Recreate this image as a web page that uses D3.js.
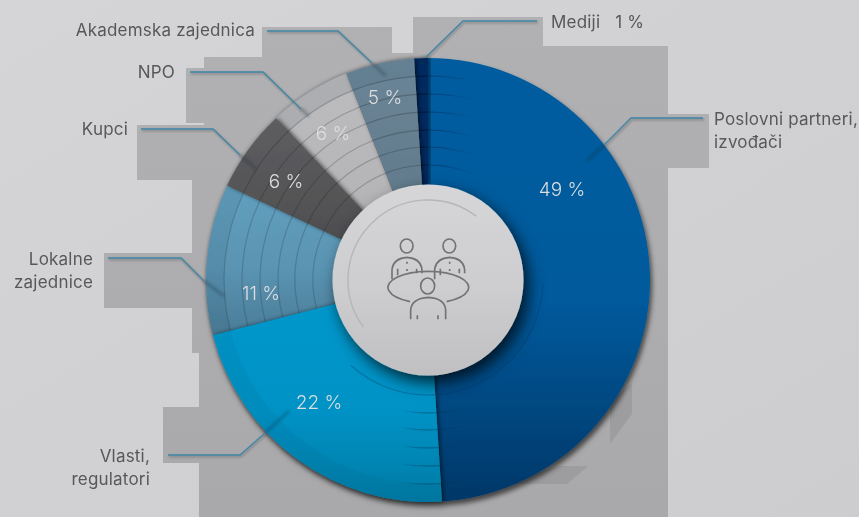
<!DOCTYPE html>
<html>
<head>
<meta charset="utf-8">
<script src="https://cdn.jsdelivr.net/npm/d3@7"></script>
<style>
html, body { margin: 0; padding: 0; background: #d2d2d4; overflow: hidden; }
text { font-family: Inter, "Open Sans", sans-serif; }
</style>
</head>
<body>
<svg id="chart"></svg>
<script>
const width = 859;
const height = 517;

const categories = ['Poslovni partneri, izvođači', 'Vlasti, regulatori', 'Lokalne zajednice', 'Kupci', 'NPO', 'Akademska zajednica', 'Mediji'];
const shares = [49, 22, 11, 6, 6, 5, 1];
const percentLabels = ['49 %', '22 %', '11 %', '6 %', '6 %', '5 %', ''];

const centerX = 428;
const centerY = 280;
const outerRadius = 222;
const innerRadius = 95;
const ringRadii = [115, 133, 150, 168, 186, 204];

const topColors = ['#005c9f', '#0097cb', '#619fbf', '#5e5e60', '#bcbcbe', '#6a8698', '#002c60'];
const midColors = ['#005a9c', '#0092c5', '#5a94b2', '#565658', '#b8b8ba', '#667f91', '#002c60'];
const bottomColors = ['#003768', '#007ba5', '#4a7c97', '#4e4e50', '#b4b4b6', '#627b8d', '#002c60'];
const bandOpacity = [0, 0.05, 0.07, 0, 0.09, 0.05, 0];
const ringOpacity = [0, 0, 0.22, 0.28, 0.24, 0.28, 0];
// later ones throw their shadow on earlier ones
const drawOrder = [0, 6, 4, 5, 2, 1, 3];

// label text, one entry per line block, anchor position on the page
const labelLines = [
    { text: ['Poslovni partneri,', 'izvođači'], x: 714, y: 125, anchor: 'start' },
    { text: ['Vlasti,', 'regulatori'], x: 150, y: 462, anchor: 'end' },
    { text: ['Lokalne', 'zajednice'], x: 93, y: 265, anchor: 'end' },
    { text: ['Kupci'], x: 128, y: 135, anchor: 'end' },
    { text: ['NPO'], x: 175, y: 78, anchor: 'end' },
    { text: ['Akademska zajednica'], x: 255, y: 36, anchor: 'end' },
    { text: ['Mediji\u00a0\u00a0\u00a01 %'], x: 551, y: 28, anchor: 'start' }
];

// leader lines: label end, elbow, pie rim, end inside the slice
const leaderSpots = [
    [[703, 118], [631, 118], [604, 145], [587, 161]],
    [[168, 455], [240, 455], [265, 433], [289, 411]],
    [[108, 258], [181, 258], [204, 281], [224, 296]],
    [[141, 129], [213, 129], [240, 155], [256, 169]],
    [[190, 72], [263, 72], [301, 109], [309, 116]],
    [[267, 31], [338, 31], [372, 63], [386, 76]],
    [[537, 21], [463, 21], [426, 57], [419, 64]]
];

const percentSpots = [[562, 189], [319, 402], [261, 293], [286, 181], [333, 133], [385, 97], [0, 0]];

// the blocky darker area behind the pie
const backdrop = [[413, 17], [543, 17], [543, 46], [668, 46], [668, 114], [709, 114], [709, 168], [668, 168],
    [668, 517], [199, 517], [199, 463], [163, 463], [163, 407], [199, 407], [199, 353], [192, 353],
    [192, 308], [104, 308], [104, 253], [192, 253], [192, 180], [137, 180], [137, 125], [204, 125],
    [204, 123], [186, 123], [186, 68], [204, 68], [204, 57], [262, 57], [262, 27], [392, 27], [392, 53], [413, 53]];
const shards = [
    [[610, 402], [632, 383], [632, 414], [610, 444]],
    [[560, 466], [588, 466], [567, 484], [500, 484]]
];

const svg = d3.select('#chart').attr('width', width).attr('height', height)
    .style('display', 'block');
const defs = svg.append('defs');

function vertical(id, top, mid, bottom) {
    const g = defs.append('linearGradient').attr('id', id)
        .attr('x1', 0).attr('y1', 0).attr('x2', 0).attr('y2', 1);
    g.append('stop').attr('offset', '0%').attr('stop-color', top);
    g.append('stop').attr('offset', '55%').attr('stop-color', mid);
    g.append('stop').attr('offset', '100%').attr('stop-color', bottom);
}

function blur(id, dev) {
    defs.append('filter').attr('id', id)
        .attr('x', '-30%').attr('y', '-30%').attr('width', '160%').attr('height', '160%')
        .append('feGaussianBlur').attr('stdDeviation', dev);
}

function dropShadow(id, dx, dy, dev, alpha) {
    defs.append('filter').attr('id', id)
        .attr('x', '-20%').attr('y', '-20%').attr('width', '140%').attr('height', '140%')
        .append('feDropShadow').attr('dx', dx).attr('dy', dy).attr('stdDeviation', dev)
        .attr('flood-color', '#000').attr('flood-opacity', alpha);
}

blur('softLine', 1.6);
blur('softShadow', 1);
dropShadow('pieShadow', 2, 4, 2.5, 0.6);
dropShadow('sliceShadow', 1.5, 0, 2, 0.6);
dropShadow('hubShadow', 5, 7, 8, 0.75);

const pageGrad = defs.append('linearGradient').attr('id', 'pageGrad')
    .attr('x1', 0).attr('y1', 0).attr('x2', 1).attr('y2', 1);
pageGrad.append('stop').attr('offset', '0%').attr('stop-color', '#d5d5d7');
pageGrad.append('stop').attr('offset', '100%').attr('stop-color', '#cdcdcf');
vertical('backGrad', '#b1b1b3', '#adadaf', '#a9a8aa');
vertical('hubGrad', '#d6d6d8', '#cdcdcf', '#c0c0c2');

shares.forEach((d, i) => vertical('slice' + i, topColors[i], midColors[i], bottomColors[i]));

// rings that die out inside the blue slice, left to right in page units
const fadeTop = defs.append('linearGradient').attr('id', 'fadeTop').attr('gradientUnits', 'userSpaceOnUse')
    .attr('x1', 0).attr('x2', 44).attr('y1', 0).attr('y2', 0);
fadeTop.append('stop').attr('offset', '0%').attr('stop-color', '#00264f').attr('stop-opacity', 0.6);
fadeTop.append('stop').attr('offset', '100%').attr('stop-color', '#00264f').attr('stop-opacity', 0);
const fadeBottom = defs.append('linearGradient').attr('id', 'fadeBottom').attr('gradientUnits', 'userSpaceOnUse')
    .attr('x1', -28).attr('x2', 34).attr('y1', 0).attr('y2', 0);
fadeBottom.append('stop').attr('offset', '0%').attr('stop-color', '#00304f').attr('stop-opacity', 0);
fadeBottom.append('stop').attr('offset', '45%').attr('stop-color', '#00304f').attr('stop-opacity', 0.55);
fadeBottom.append('stop').attr('offset', '100%').attr('stop-color', '#00304f').attr('stop-opacity', 0);

svg.append('rect').attr('width', width).attr('height', height).attr('fill', 'url(#pageGrad)');

svg.append('path').attr('d', d3.line()(backdrop) + 'Z').attr('fill', 'url(#backGrad)');
svg.selectAll('.shard').data(shards).enter().append('path').attr('class', 'shard')
    .attr('d', d => d3.line()(d) + 'Z').attr('fill', '#8f9092').attr('opacity', 0.5);

const pie = d3.pie().sort(null)(shares);
const arc = d3.arc().innerRadius(innerRadius).outerRadius(outerRadius);
const ring = (r, a0, a1) => d3.arc().innerRadius(r).outerRadius(r)({ startAngle: a0, endAngle: a1 });
const deg = d => d * Math.PI / 180;

const chart = svg.append('g').attr('transform', `translate(${centerX},${centerY})`);
const slices = chart.append('g').attr('filter', 'url(#pieShadow)');

drawOrder.forEach(i => {
    const d = pie[i];
    const g = slices.append('g').attr('filter', (i === 0) ? null : 'url(#sliceShadow)');
    g.append('path').attr('d', arc(d)).attr('fill', `url(#slice${i})`);
    if (bandOpacity[i] > 0) {
        g.append('path')
            .attr('d', d3.arc().innerRadius(ringRadii[5]).outerRadius(outerRadius)(d))
            .attr('fill', '#1c2c38').attr('opacity', bandOpacity[i]);
    }
    if (ringOpacity[i] > 0) {
        g.selectAll('.ring').data(ringRadii).enter().append('path').attr('class', 'ring')
            .attr('d', r => ring(r, d.startAngle, d.endAngle))
            .attr('fill', 'none').attr('stroke', '#20262c')
            .attr('stroke-width', 1.2).attr('opacity', ringOpacity[i]);
    }
    if (i === 6) {
        g.selectAll('.ring').data(ringRadii).enter().append('path').attr('class', 'ring')
            .attr('d', r => ring(r, d.startAngle, d.endAngle))
            .attr('fill', 'none').attr('stroke', '#001a3c').attr('stroke-width', 1.2);
    }
});

// partial rings in the two blue slices
slices.selectAll('.topRing').data(ringRadii).enter().append('path').attr('class', 'topRing')
    .attr('d', r => ring(r, 0, deg(24)))
    .attr('fill', 'none').attr('stroke', 'url(#fadeTop)').attr('stroke-width', 1.1);
slices.selectAll('.bottomRing').data(ringRadii.slice(1)).enter().append('path').attr('class', 'bottomRing')
    .attr('d', r => ring(r, deg(168), deg(194)))
    .attr('fill', 'none').attr('stroke', 'url(#fadeBottom)').attr('stroke-width', 1.1);
slices.append('path').attr('d', ring(ringRadii[0], deg(176), deg(222)))
    .attr('fill', 'none').attr('stroke', '#00507a').attr('stroke-width', 1.2).attr('opacity', 0.45);
slices.append('path').attr('d', ring(ringRadii[0], deg(92), deg(176)))
    .attr('fill', 'none').attr('stroke', '#003058').attr('stroke-width', 1.2).attr('opacity', 0.25);

// leader lines
const leaders = svg.append('g');
leaderSpots.forEach(pts => {
    leaders.append('path').attr('d', d3.line()(pts.slice(2)))
        .attr('fill', 'none').attr('stroke', '#152a3a').attr('stroke-width', 3)
        .attr('opacity', 0.3).attr('filter', 'url(#softLine)');
    leaders.append('path').attr('d', d3.line()(pts.slice(0, 3)))
        .attr('transform', 'translate(1,1.5)')
        .attr('fill', 'none').attr('stroke', '#333').attr('stroke-width', 1.5)
        .attr('opacity', 0.4).attr('filter', 'url(#softShadow)');
    leaders.append('path').attr('d', d3.line()(pts.slice(0, 3)))
        .attr('fill', 'none').attr('stroke', '#3f87a6').attr('stroke-width', 1.3);
});

// hub with the meeting icon
const hub = svg.append('g').attr('transform', `translate(${centerX},${centerY})`);
hub.append('circle').attr('r', innerRadius + 0.5).attr('fill', 'url(#hubGrad)').attr('filter', 'url(#hubShadow)');
hub.append('path').attr('d', ring(80, deg(-126), deg(37)))
    .attr('fill', 'none').attr('stroke', '#b6b6b8').attr('stroke-width', 1.4);

const icon = svg.append('g').attr('transform', 'translate(320,190) scale(0.3333)')
    .attr('fill', 'none').attr('stroke', '#737376').attr('stroke-width', 5);
[0, 128].forEach(dx => {
    const p = icon.append('g').attr('transform', `translate(${dx},0)`);
    p.append('ellipse').attr('cx', 260).attr('cy', 168).attr('rx', 19).attr('ry', 21);
    p.append('path').attr('d', 'M216,268 V240 Q219,205 261,202 Q303,205 306,240 V250');
    p.append('path').attr('d', 'M233,236 V256 M290,236 V250 M261,215 V221 M261,237 V243');
});
icon.append('path').attr('d', 'M270,335 A121,48 0 1 1 380,335');
icon.append('ellipse').attr('cx', 323).attr('cy', 288).attr('rx', 21).attr('ry', 24);
icon.append('path').attr('d', 'M272,388 V360 Q275,325 325,322 Q375,325 377,360 V388 M292,376 V388 M354,376 V388');

// percent labels
svg.selectAll('.percent').data(percentLabels).enter().append('text').attr('class', 'percent')
    .attr('x', (d, i) => percentSpots[i][0])
    .attr('y', (d, i) => percentSpots[i][1] + 6.5)
    .attr('text-anchor', 'middle')
    .attr('font-size', 19)
    .attr('font-weight', 300)
    .attr('fill', '#dcdee0')
    .text(d => d);

// category labels
labelLines.forEach(l => {
    const t = svg.append('text').attr('text-anchor', l.anchor)
        .attr('font-size', 17).attr('fill', '#58585b').attr('letter-spacing', 0.2);
    l.text.forEach((line, i) => {
        t.append('tspan').attr('x', l.x).attr('y', l.y + i * 22.5).text(line);
    });
});
</script>
</body>
</html>
